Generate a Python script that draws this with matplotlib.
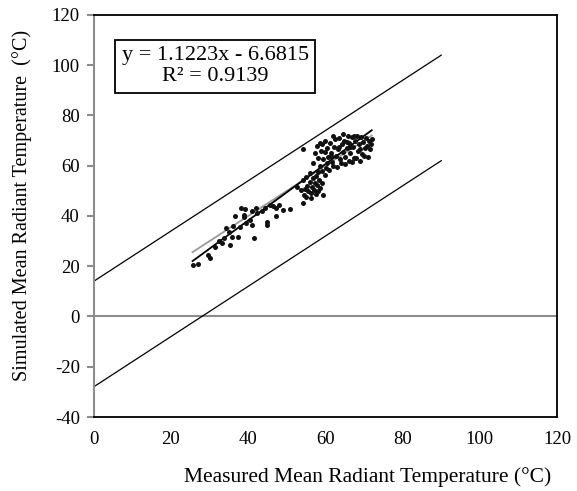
"""
Simulated vs measured mean radiant temperature
"""

import matplotlib.pyplot as plt
import numpy as np

plt.rcParams["font.family"] = ["Liberation Serif", "DejaVu Serif"]
plt.rcParams["axes.unicode_minus"] = False

# -------------------------------------------------------
# Data
# -------------------------------------------------------

measured = [
    25.6, 27.1, 29.5, 30.0, 31.4, 33.2, 33.8, 35.3, 35.7, 34.3, 37.5, 36.2, 37.8,
    36.6, 38.1, 39.2, 38.8, 40.5, 40.9, 41.4, 39.5, 42.0, 42.2, 43.5, 44.8, 44.8,
    44.4, 45.7, 47.2, 47.2, 49.0, 50.9, 54.1, 54.1, 32.5, 35.0, 39.0, 41.0, 46.5,
    48.0,
    52.7, 53.6, 54.1, 54.5, 55.0, 55.3, 55.6, 55.9, 56.2, 56.5, 56.8, 57.0, 57.2,
    57.5, 57.8, 58.0, 58.3, 55.0, 56.0, 57.5, 58.5, 59.0, 59.3, 54.8, 56.3,
    56.7, 57.3, 57.8, 58.2, 58.5, 58.8, 59.2, 59.5, 59.8, 60.2, 60.5, 60.8, 61.2,
    61.5, 61.8, 62.2, 62.5, 62.8, 63.2, 63.5, 63.8, 64.2, 64.5, 64.8, 65.2, 65.5,
    65.8, 66.2, 66.5, 66.8, 67.2, 67.5, 67.8, 68.2, 68.5, 68.8, 69.2, 69.5, 69.8,
    70.2, 70.5, 70.8, 71.2, 71.5, 72.0, 60.0, 61.0, 62.0, 63.0, 64.0, 65.0, 66.0,
    67.0, 68.0, 69.0, 70.0, 71.0, 59.0, 60.5, 63.5, 65.5, 67.5, 62.0, 64.5, 58.0,
    61.5, 66.5, 69.0, 71.8, 60.0, 58.5,
]

simulated = [
    20.4, 20.9, 24.3, 23.2, 27.8, 29.2, 31.2, 28.5, 31.8, 35.1, 31.6, 36.1, 35.5,
    39.8, 43.1, 42.6, 39.6, 38.4, 36.3, 31.1, 37.2, 43.1, 41.1, 41.8, 37.8, 36.5,
    43.1, 44.4, 43.1, 39.8, 42.2, 42.7, 45.1, 66.6, 30.0, 33.5, 40.5, 42.0, 44.0,
    44.5,
    51.6, 50.3, 54.3, 48.5, 47.5, 52.0, 50.0, 53.5, 49.0, 51.5, 55.0, 50.5, 53.0,
    48.8, 52.5, 50.0, 54.5, 55.5, 57.0, 56.0, 51.0, 53.0, 48.5, 50.8, 47.0,
    61.0, 65.0, 67.7, 63.0, 60.0, 66.0, 68.5, 62.5, 65.5, 59.0, 67.0, 63.5, 69.0,
    65.0, 61.5, 67.5, 70.5, 64.0, 66.5, 71.0, 62.5, 68.5, 65.5, 70.0, 63.5, 67.0,
    72.0, 69.0, 65.0, 71.5, 67.5, 63.0, 70.0, 72.0, 66.0, 68.5, 71.5, 64.5, 69.5,
    67.0, 71.0, 68.0, 70.0, 66.5, 70.5, 56.5, 58.5, 60.0, 59.5, 61.0, 60.5, 62.0,
    61.5, 63.0, 62.0, 64.0, 63.5, 58.0, 61.0, 67.5, 69.5, 72.0, 72.0, 72.5, 57.5,
    64.0, 67.5, 66.5, 68.5, 70.0, 69.0,
]

# Trendline reported on the chart
fit_slope = 1.1223
fit_intercept = -6.6815
fit_r2 = 0.9139

# Limit lines (slope 1, offsets)
band_offsets = [14, -28]
band_x_end = 90

# -------------------------------------------------------
# Figure
# -------------------------------------------------------

fig = plt.figure(figsize=(5.77, 4.91), dpi=100)
ax = fig.add_axes([0.1624, 0.1507, 0.803, 0.8188])

ax.set_xlim(0, 120)
ax.set_ylim(-40, 120)

# limit lines
for off in band_offsets:
    bx = np.array([0, band_x_end])
    ax.plot(bx, bx + off, color="black", lw=0.9, zorder=2)

# zero axis
ax.axhline(0, color="#8c8c8c", lw=1.5, zorder=1)

# 1:1 line
xr = np.array([min(measured), max(measured)])
ax.plot(xr, xr, color="#9a9a9a", lw=1.3, zorder=3)

# trendline
ax.plot(xr, fit_slope * xr + fit_intercept, color="black", lw=1.3, zorder=3)

ax.scatter(measured, simulated, s=13, color="#111111", zorder=4, linewidths=0)

# spines
for side in ["top", "right", "bottom"]:
    ax.spines[side].set_color("black")
    ax.spines[side].set_linewidth(1.3)
ax.spines["left"].set_color("#8c8c8c")
ax.spines["left"].set_linewidth(1.5)

ax.set_xticks(range(0, 121, 20))
ax.set_yticks(range(-40, 121, 20))
ax.tick_params(axis="x", length=0, pad=10, labelsize=13.5)
ax.tick_params(axis="y", direction="out", length=5, width=1.5,
               color="#8c8c8c", pad=5, labelsize=13.5)

# equation box
ax.text(0.262, 0.872,
        f"y = {fit_slope:.4f}x - {abs(fit_intercept):.4f}\nR\u00b2 = {fit_r2:.4f}",
        transform=ax.transAxes, ha="center", va="center", fontsize=16,
        linespacing=1.15,
        bbox=dict(boxstyle="square,pad=0.3", fc="white", ec="black", lw=1.3))

fig.text(368 / 577, 1 - 477 / 491, "Measured Mean Radiant Temperature (\u00b0C)",
         ha="center", va="center", fontsize=15.5)
fig.text(22 / 577, 1 - 205 / 491, "Simulated Mean Radiant Temperature  (\u00b0C)",
         ha="center", va="center", rotation=90, fontsize=14.5)

plt.savefig("out.png", dpi=100)
